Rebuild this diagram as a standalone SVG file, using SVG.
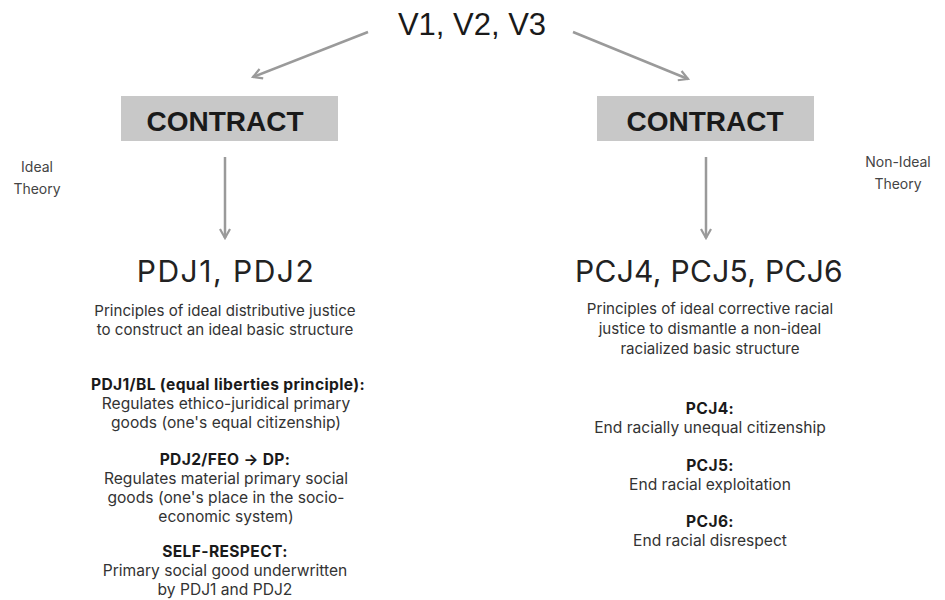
<svg xmlns="http://www.w3.org/2000/svg" width="945" height="600" viewBox="0 0 945 600">
<style>
.conn{stroke:#9a9a9a;stroke-width:2.5;fill:none;marker-end:url(#chev)}
.box{fill:#c8c8c8}
.ct{font-family:"Liberation Sans",Arial,sans-serif;font-weight:bold;font-size:28px;fill:#1a1a1a;text-anchor:middle}
.top{font-family:"Liberation Sans",Arial,sans-serif;font-size:31px;fill:#1a1a1a;text-anchor:middle}
.side{font-family:Inter,"Noto Sans",sans-serif;font-size:14px;fill:#444;text-anchor:middle}
.big{font-family:Inter,"Noto Sans",sans-serif;font-size:30px;fill:#222;text-anchor:middle;letter-spacing:1.5px}
.body{font-family:Inter,"Noto Sans",sans-serif;font-size:15.6px;fill:#333;text-anchor:middle}
.sub{font-size:15.1px}
.b{font-weight:bold;fill:#1a1a1a;letter-spacing:0.35px}
</style>
<defs>
<marker id="chev" viewBox="0 0 12 12" refX="10" refY="6" markerWidth="12" markerHeight="12" markerUnits="userSpaceOnUse" orient="auto">
<path d="M1,1 L10,6 L1,11" fill="none" stroke="#9a9a9a" stroke-width="2.2"/>
</marker>
</defs>
<rect width="945" height="600" fill="#fff"/>
<g id="connectors">
<line class="conn" x1="368" y1="32" x2="253" y2="77"/>
<line class="conn" x1="573" y1="32" x2="688" y2="79"/>
<line class="conn" x1="225" y1="157" x2="225" y2="238"/>
<line class="conn" x1="706" y1="157" x2="706" y2="238"/>
</g>
<g id="top"><text class="top" x="472" y="35">V1, V2, V3</text></g>
<g id="contract-left"><rect class="box" x="121" y="96" width="217" height="45"/><text class="ct" x="225" y="131">CONTRACT</text></g>
<g id="contract-right"><rect class="box" x="597" y="96" width="217" height="45"/><text class="ct" x="705" y="131">CONTRACT</text></g>
<g id="ideal-label"><text class="side" x="37" y="172">Ideal</text><text class="side" x="37" y="194">Theory</text></g>
<g id="nonideal-label"><text class="side" x="898" y="167">Non-Ideal</text><text class="side" x="898" y="189">Theory</text></g>
<g id="pdj">
<text class="big" x="226" y="282">PDJ1, PDJ2</text>
<text class="body sub" x="225" y="316">Principles of ideal distributive justice</text>
<text class="body sub" x="225" y="335">to construct an ideal basic structure</text>
<text class="body b" x="228" y="390">PDJ1/BL (equal liberties principle):</text>
<text class="body" x="226" y="409">Regulates ethico-juridical primary</text>
<text class="body" x="226" y="428">goods (one's  equal citizenship)</text>
<text class="body b" x="225" y="465">PDJ2/FEO → DP:</text>
<text class="body" x="226" y="484">Regulates material primary social</text>
<text class="body" x="226" y="503">goods (one's place in the socio-</text>
<text class="body" x="226" y="522">economic system)</text>
<text class="body b" x="225" y="557">SELF-RESPECT:</text>
<text class="body" x="225" y="576">Primary social good underwritten</text>
<text class="body" x="225" y="595">by PDJ1 and PDJ2</text>
</g>
<g id="pcj">
<text class="big" x="709" y="282" style="letter-spacing:0.3px">PCJ4, PCJ5, PCJ6</text>
<text class="body sub" x="710" y="314">Principles of ideal corrective racial</text>
<text class="body sub" x="710" y="334">justice to dismantle a non-ideal</text>
<text class="body sub" x="710" y="354">racialized basic structure</text>
<text class="body b" x="710" y="414">PCJ4:</text>
<text class="body" x="710" y="433">End racially unequal citizenship</text>
<text class="body b" x="710" y="471">PCJ5:</text>
<text class="body" x="710" y="490">End racial exploitation</text>
<text class="body b" x="710" y="527">PCJ6:</text>
<text class="body" x="710" y="546">End racial disrespect</text>
</g>
</svg>
